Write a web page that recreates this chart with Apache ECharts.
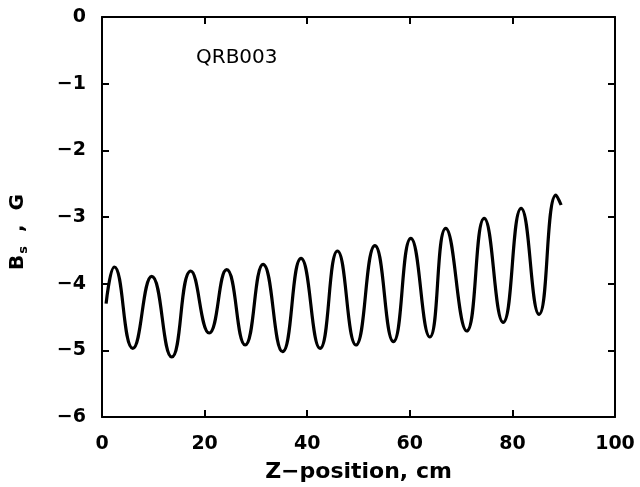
<!DOCTYPE html>
<html>
<head>
<meta charset="utf-8">
<script src="https://cdn.jsdelivr.net/npm/echarts@6/dist/echarts.min.js"></script>
<style>
  html,body{margin:0;padding:0;background:#fff}
  #main{width:640px;height:487px}
</style>
</head>
<body>
<div id="main"></div>
<script>
// peaks / troughs, z in cm, field in G
var zPos = [0.8, 2.4, 6.0, 9.7, 13.6, 17.3, 20.9, 24.3, 27.9, 31.4, 35.2, 38.8, 42.5, 45.9, 49.5,
            53.2, 56.8, 60.2, 63.9, 67.0, 71.1, 74.5, 78.2, 81.7, 85.2, 88.5, 89.5]
var bField = [-4.30, -3.75, -4.97, -3.89, -5.10, -3.81, -4.74, -3.79, -4.92, -3.71, -5.02, -3.62, -4.97, -3.51, -4.92,
              -3.43, -4.87, -3.32, -4.80, -3.17, -4.71, -3.02, -4.58, -2.87, -4.46, -2.67, -2.82]
var xTicks = [0, 20, 40, 60, 80, 100]
var yTicks = [0, -1, -2, -3, -4, -5, -6]
var sampleName = 'QRB003'

var chart = echarts.init(document.getElementById('main'))

var lbl = {
    fontFamily: 'DejaVu Sans',
    fontWeight: 'bold',
    fontSize: 19,
    color: '#000'
}
function minus(v){
    return String(v).replace('-', '\u2212')
}
// frame on all 4 sides, ticks pointing in
var axLine = {show:true, onZero:false, lineStyle:{color:'#000', width:2}}
var tick = {show:true, inside:true, length:7, lineStyle:{color:'#000', width:2}}

var option = {
    animation: false,
    backgroundColor: '#fff',
    title: {
        text: sampleName,
        left: 191,
        top: 43,
        textStyle: {fontFamily:'DejaVu Sans', fontWeight:'normal', fontSize:20, color:'#000'}
    },
    grid: {left:102, right:25, top:17, bottom:70, outerBoundsMode:'none'},
    xAxis: [
        {
            type: 'value', min: xTicks[0], max: xTicks[xTicks.length-1], interval: 20,
            position: 'bottom',
            name: 'Z\u2212position, cm',
            nameLocation: 'middle',
            nameGap: 44,
            nameTextStyle: {fontFamily:'DejaVu Sans', fontWeight:'bold', fontSize:22, color:'#000'},
            axisLine: axLine, axisTick: tick,
            axisLabel: Object.assign({margin:18}, lbl),
            splitLine: {show:false}
        },
        {
            type: 'value', min: 0, max: 100, interval: 20,
            position: 'top',
            axisLine: axLine, axisTick: tick,
            axisLabel: {show:false}, splitLine: {show:false}
        }
    ],
    yAxis: [
        {
            type: 'value', min: yTicks[yTicks.length-1], max: yTicks[0], interval: 1,
            position: 'left',
            axisLine: axLine, axisTick: tick,
            axisLabel: Object.assign({margin:16, formatter:minus}, lbl),
            splitLine: {show:false}
        },
        {
            type: 'value', min: -6, max: 0, interval: 1,
            position: 'right',
            axisLine: axLine, axisTick: tick,
            axisLabel: {show:false}, splitLine: {show:false}
        }
    ],
    graphic: [
        {
            type: 'text',
            x: 18, y: 232,
            rotation: Math.PI/2,
            style: {
                text: '{b|B}{s|s}{b|  ,  G}',
                align: 'center',
                verticalAlign: 'middle',
                rich: {
                    b: {fontFamily:'DejaVu Sans', fontWeight:'bold', fontSize:20, fill:'#000'},
                    s: {fontFamily:'DejaVu Sans', fontWeight:'bold', fontSize:13, fill:'#000', padding:[12,0,0,1]}
                }
            }
        }
    ],
    series: [
        {
            type: 'line',
            data: zPos.map(function(z, i){ return [z, bField[i]] }),
            smooth: 0.5,
            showSymbol: false,
            lineStyle: {color:'#000', width:3.2}
        }
    ]
}
chart.setOption(option)
</script>
</body>
</html>
